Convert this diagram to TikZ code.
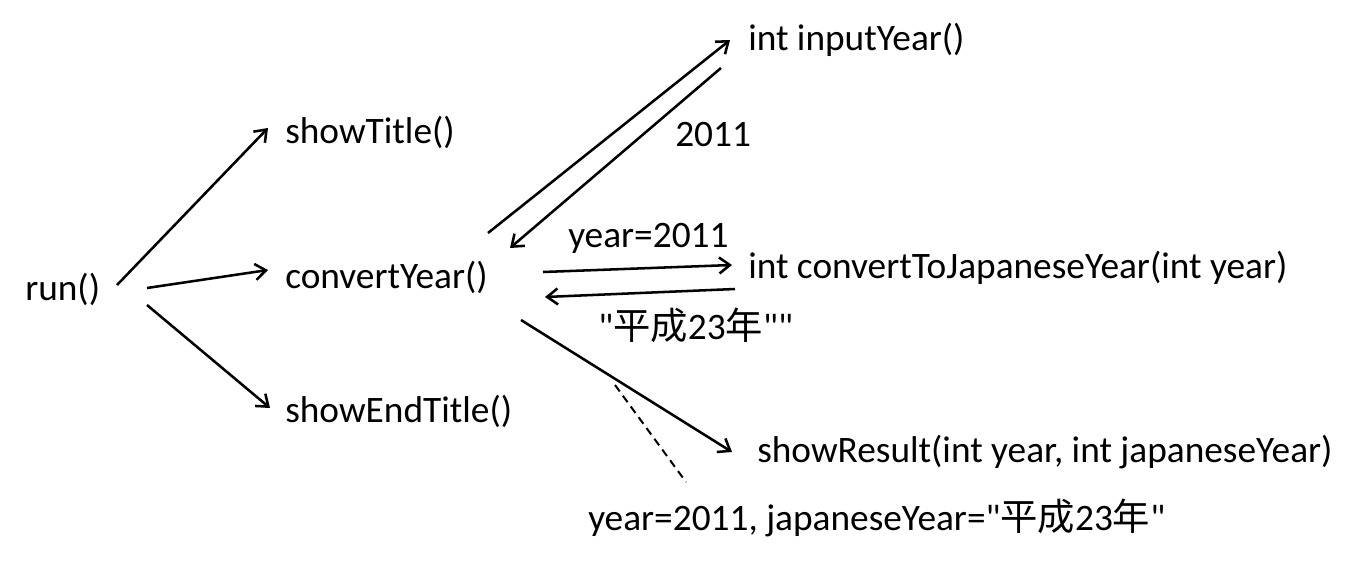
\documentclass[tikz,border=0pt]{standalone}
\usepackage{fontspec}
\setmainfont{Carlito}
\newfontfamily\cjk{Noto Sans CJK JP}
\newcommand\dq{\XeTeXglyph\XeTeXcharglyph"22\relax}
\usetikzlibrary{arrows.meta,calc}
\begin{document}
\begin{tikzpicture}[x=0.75pt,y=-0.75pt,
  lbl/.style={anchor=west,inner sep=0pt,font=\fontsize{28pt}{30pt}\selectfont},
  arr/.style={line width=1.9pt,-{Straight Barb[length=8pt,width=12pt,line width=1.9pt]}},
  dsh/.style={line width=1.5pt,dash pattern=on 6pt off 4pt}]
\useasboundingbox (0,0) rectangle (1360,561);
\node[lbl] (run) at (25,289) {run()};
\node[lbl] (title) at (285,132) {showTitle()};
\node[lbl] (conv) at (285,277) {convertYear()};
\node[lbl] (endt) at (285,411) {showEndTitle()};
\node[lbl] (input) at (748,40) {int inputYear()};
\node[lbl] (r2011) at (675,135) {2011};
\node[lbl] (yr) at (568,238) {year=2011};
\node[lbl] (cj) at (748,268) {int convertToJapaneseYear(int year)};
\node[lbl] (heisei) at (598,325) {\dq{\cjk 平成}23{\cjk 年}\dq\dq};
\node[lbl] (res) at (757,452) {showResult(int year, int japaneseYear)};
\node[lbl] (note) at (588,518) {year=2011, japaneseYear=\dq{\cjk 平成}23{\cjk 年}\dq};
\draw[arr] ($(run.west)+(92,-4)$) -- ($(title.west)+(-17,-4)$);
\draw[arr] ($(run.west)+(122,-1)$) -- ($(conv.west)+(-17,-7)$);
\draw[arr] ($(run.west)+(122,16)$) -- ($(endt.west)+(-15,-3)$);
\draw[arr] ($(conv.west)+(203,-44)$) -- ($(input.west)+(-18,0)$);
\draw[arr] ($(input.west)+(-27,28)$) -- ($(conv.west)+(225,-29)$);
\draw[arr] ($(conv.west)+(258,-5)$) -- ($(cj.west)+(-16,-3)$);
\draw[arr] ($(cj.west)+(-13,21)$) -- ($(conv.west)+(260,20)$);
\draw[arr] ($(conv.west)+(236,43)$) -- ($(res.west)+(-25,0)$);
\draw[dsh] ($(conv.west)+(330,108)$) -- ($(note.west)+(98,-36)$);
\end{tikzpicture}
\end{document}
